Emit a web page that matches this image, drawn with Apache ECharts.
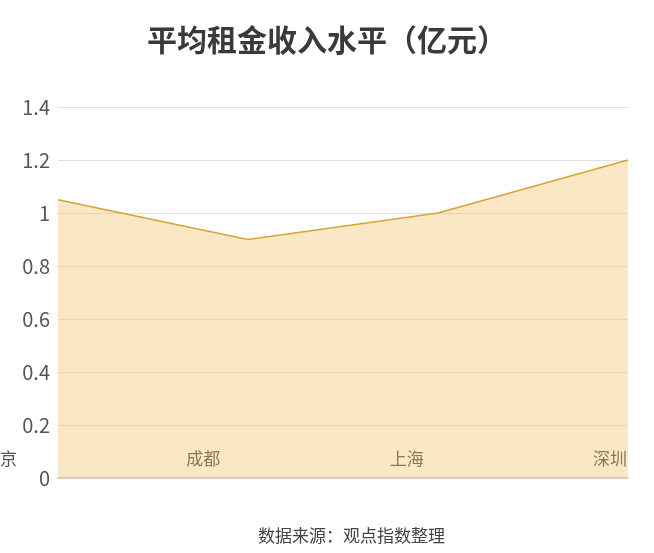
<!DOCTYPE html>
<html><head><meta charset="utf-8">
<script src="https://cdn.jsdelivr.net/npm/echarts@6/dist/echarts.min.js"></script>
<style>html,body{margin:0;padding:0;background:#fff}#c{width:654px;height:553px}</style>
</head><body><div id="c"></div>
<script>
var categories = ['北京', '成都', '上海', '深圳'];
var values = [1.05, 0.9, 1.0, 1.2];
var yTicks = { min: 0, max: 1.4, interval: 0.2 };
var titleText = '平均租金收入水平（亿元）';
var sourceText = '数据来源：观点指数整理';

var FONT = '"Noto Sans CJK SC", "Noto Sans", sans-serif';
var chart = echarts.init(document.getElementById('c'));
chart.setOption({
  backgroundColor: '#fff',
  animation: false,
  title: [
    { text: titleText, left: 'center', top: 20, textStyle: { fontFamily: FONT, fontSize: 30, fontWeight: 'bold', color: '#3a3a3a' } },
    { text: sourceText, left: 253, top: 522, textStyle: { fontFamily: FONT, fontSize: 17, fontWeight: 'normal', color: '#444' } }
  ],
  grid: [
    { left: 58, right: 26, top: 107, bottom: 75, outerBoundsMode: 'none', containLabel: false },
    { left: 0, right: 44, top: 107, bottom: 111, outerBoundsMode: 'none', containLabel: false }
  ],
  xAxis: [
    { type: 'category', gridIndex: 0, data: categories, boundaryGap: false,
      axisLine: { show: true, lineStyle: { color: '#d0d0d0', width: 2 } },
      axisTick: { show: false }, axisLabel: { show: false }, splitLine: { show: false } },
    { type: 'category', gridIndex: 1, data: categories, boundaryGap: false,
      axisLine: { show: false }, axisTick: { show: false },
      axisLabel: { show: true, margin: 8, fontFamily: FONT, fontSize: 17, color: '#555',
        alignMinLabel: 'center', alignMaxLabel: 'center', hideOverlap: false } }
  ],
  yAxis: [
    { type: 'value', gridIndex: 0, min: yTicks.min, max: yTicks.max, interval: yTicks.interval,
      axisLine: { show: false }, axisTick: { show: false },
      axisLabel: { margin: 8, fontFamily: FONT, fontSize: 20, color: '#555',
        formatter: function (v) { return String(Math.round(v * 10) / 10); } },
      splitLine: { lineStyle: { color: '#e2e2e2', width: 1 } } },
    { type: 'value', gridIndex: 1, show: false, min: 0, max: 1 }
  ],
  series: [{
    type: 'line', xAxisIndex: 0, yAxisIndex: 0, data: values,
    symbol: 'none', smooth: false,
    lineStyle: { color: '#dba230', width: 1.5 },
    areaStyle: { color: '#eeb95a', opacity: 0.35 }
  }]
});
</script></body></html>
